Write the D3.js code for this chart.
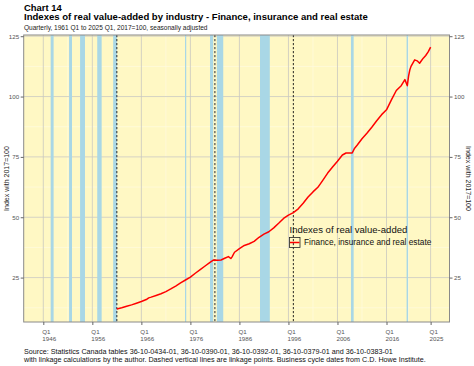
<!DOCTYPE html>
<html><head><meta charset="utf-8">
<script src="https://cdn.jsdelivr.net/npm/d3@7"></script>
<style>body{margin:0;background:#fff}svg{display:block}text{font-family:"Liberation Sans",Arial,sans-serif}</style>
</head><body>
<script>
// Quarterly index values, decimal year -> index
const dates = [1961.0,1962.0,1963.0,1964.0,1965.0,1966.0,1967.0,1967.5,1968.0,1969.0,1970.0,1971.0,1972.0,1973.0,1974.0,1975.0,1976.0,1977.0,1978.0,1979.0,1980.0,1980.75,1981.5,1982.25,1983.0,1983.75,1984.25,1984.5,1985.0,1986.0,1987.0,1988.0,1989.0,1990.0,1991.0,1992.0,1993.0,1994.0,1995.0,1996.0,1997.0,1998.0,1999.0,2000.0,2001.0,2002.0,2003.0,2004.0,2005.0,2006.0,2007.0,2007.75,2008.5,2009.0,2009.5,2010.0,2011.0,2012.0,2013.0,2014.0,2015.0,2016.0,2017.0,2018.0,2019.0,2019.75,2020.25,2020.5,2020.75,2021.0,2021.75,2022.25,2022.75,2023.0,2023.5,2024.0,2024.5,2025.0];
const values = [12.0,12.5,13.1,13.7,14.4,15.1,15.9,16.6,16.9,17.6,18.3,19.2,20.3,21.5,22.8,24.0,25.2,26.8,28.3,29.8,31.3,32.3,32.2,32.3,33.0,33.7,32.9,33.6,35.5,37.0,38.3,39.0,40.0,41.7,43.0,44.0,45.6,47.5,49.5,50.9,51.9,53.5,55.8,58.4,60.5,62.4,65.3,68.3,70.8,73.2,75.8,76.6,76.6,76.6,78.6,79.8,82.5,84.8,87.3,90.0,92.5,94.5,98.6,102.5,104.5,107.0,104.5,108.5,111.0,112.5,115.2,114.8,113.8,114.5,115.9,117.0,118.5,120.5];
// Recessions (C.D. Howe), decimal year start/end
const recStart = [1947.5,1951.25,1953.5,1957.0,1960.25,1974.9,1980.0,1981.4,1990.2,2008.75,2020.1];
const recEnd   = [1948.1,1951.85,1954.5,1957.9,1961.0,1975.15,1980.65,1982.7,1992.2,2009.3,2020.4];
const linkage = [1961.0,1981.0,1997.0];
const xTicks = [1946,1956,1966,1976,1986,1996,2006,2016,2025];
const yTicks = [25,50,75,100,125];
const seriesName = "Finance, insurance and real estate";
const legendTitle = "Indexes of real value-added";

const W=474,H=366;
const P={l:23.7,r:449.5,t:35,b:322};
const svg=d3.select("body").append("svg").attr("width",W).attr("height",H);
const x=d3.scaleLinear().domain([1942.0,2028.85]).range([P.l,P.r]);
const y=d3.scaleLinear().domain([6.6,125.5]).range([P.b,P.t]);

function fit(sel,w){const n=sel.node();const fs=+sel.attr("font-size");const l=n.getComputedTextLength();if(l>0)sel.attr("font-size",(fs*w/l).toFixed(2));return sel;}

svg.append("rect").attr("x",P.l).attr("y",P.t).attr("width",P.r-P.l).attr("height",P.b-P.t).attr("fill","#fff8c4");
const g=svg.append("g");
// minor grid
const yMinor=[12.5,37.5,62.5,87.5,112.5];
g.selectAll(".ymin").data(yMinor).join("line").attr("x1",P.l).attr("x2",P.r).attr("y1",d=>y(d)).attr("y2",d=>y(d)).attr("stroke","#fffbe6").attr("stroke-width",0.6);
const xMinor=xTicks.slice(0,-1).map((d,i)=>(d+xTicks[i+1])/2);
g.selectAll(".xmin").data(xMinor).join("line").attr("y1",P.t).attr("y2",P.b).attr("x1",d=>x(d)).attr("x2",d=>x(d)).attr("stroke","#fffbe6").attr("stroke-width",0.6);
// major grid
g.selectAll(".ymaj").data(yTicks).join("line").attr("x1",P.l).attr("x2",P.r).attr("y1",d=>y(d)).attr("y2",d=>y(d)).attr("stroke","#d6d3c4").attr("stroke-width",1);
g.selectAll(".xmaj").data(xTicks).join("line").attr("y1",P.t).attr("y2",P.b).attr("x1",d=>x(d)).attr("x2",d=>x(d)).attr("stroke","#c9c8c0").attr("stroke-width",0.8);
// recessions
g.selectAll(".rec").data(recStart).join("rect").attr("x",(d)=>x(d)).attr("width",(d,i)=>Math.max(0.8,x(recEnd[i])-x(d))).attr("y",P.t).attr("height",P.b-P.t).attr("fill","#a9d7e6");
// linkage lines
g.selectAll(".lnk").data(linkage).join("line").attr("x1",d=>x(d)).attr("x2",d=>x(d)).attr("y1",P.t).attr("y2",P.b).attr("stroke","#111").attr("stroke-width",0.9).attr("stroke-dasharray","2.2,1.8");
// series
const data=dates.map((d,i)=>[d,values[i]]);
g.append("path").datum(data).attr("d",d3.line().x(d=>x(d[0])).y(d=>y(d[1]))).attr("fill","none").attr("stroke","#ff0000").attr("stroke-width",1.5).attr("stroke-linejoin","round");
// border
svg.append("rect").attr("x",P.l).attr("y",P.t).attr("width",P.r-P.l).attr("height",P.b-P.t).attr("fill","none").attr("stroke","#8a8a8a").attr("stroke-width",1);

// axes
const tickCol="#555";
const yAxisL=d3.axisLeft(y).tickValues(yTicks).tickSize(3).tickPadding(1.5);
const yAxisR=d3.axisRight(y).tickValues(yTicks).tickSize(3).tickPadding(1.5);
const gl=svg.append("g").attr("transform",`translate(${P.l},0)`).call(yAxisL);
const gr=svg.append("g").attr("transform",`translate(${P.r},0)`).call(yAxisR);
const xAxis=d3.axisBottom(x).tickValues(xTicks).tickSize(3).tickFormat(()=> "");
const gx=svg.append("g").attr("transform",`translate(0,${P.b})`).call(xAxis);
[gl,gr,gx].forEach(a=>{a.select(".domain").remove();a.selectAll(".tick line").attr("stroke","#666");a.selectAll("text").attr("fill",tickCol).attr("font-size",6.2).attr("font-family","Liberation Sans, Arial, sans-serif");});
gx.selectAll(".tick").append("text").attr("x",-1.5).attr("y",7.5).attr("text-anchor","start").attr("fill",tickCol).attr("font-size",6.2).attr("font-family","Liberation Sans, Arial, sans-serif").each(function(d){
  const t=d3.select(this);
  t.append("tspan").attr("x",-1.5).attr("dy","0.71em").text("Q1");
  t.append("tspan").attr("x",-1.5).attr("dy","1.15em").text(d);
});
// axis titles
const cy=(P.t+P.b)/2;
svg.append("text").attr("transform",`translate(8.5,${cy}) rotate(-90)`).attr("text-anchor","middle").attr("font-size",7).attr("fill","#222").text("Index with 2017=100");
svg.append("text").attr("transform",`translate(466,${cy}) rotate(90)`).attr("text-anchor","middle").attr("font-size",7).attr("fill","#222").text("Index with 2017=100");

// titles
fit(svg.append("text").attr("x",24).attr("y",10.5).attr("font-size",10).attr("font-weight","bold").text("Chart 14"),37.7);
fit(svg.append("text").attr("x",24).attr("y",20.3).attr("font-size",10).attr("font-weight","bold").text("Indexes of real value-added by industry - Finance, insurance and real estate"),344);
fit(svg.append("text").attr("x",24).attr("y",30.3).attr("font-size",6.5).attr("fill","#222").text("Quarterly, 1961 Q1 to 2025 Q1, 2017=100, seasonally adjusted"),184);

// legend
fit(svg.append("text").attr("x",289.5).attr("y",233).attr("font-size",9).attr("fill","#111").text(legendTitle),118);
svg.append("rect").attr("x",289.5).attr("y",237.5).attr("width",10.5).attr("height",10).attr("fill","none").attr("stroke","#222").attr("stroke-width",0.8);
svg.append("line").attr("x1",290).attr("x2",299.5).attr("y1",242.5).attr("y2",242.5).attr("stroke","#ff0000").attr("stroke-width",1.5);
fit(svg.append("text").attr("x",304).attr("y",245.3).attr("font-size",8).attr("fill","#111").text(seriesName),127.5);

// caption
fit(svg.append("text").attr("x",24).attr("y",354.3).attr("font-size",7.4).attr("fill","#111").text("Source: Statistics Canada tables 36-10-0434-01, 36-10-0390-01, 36-10-0392-01, 36-10-0379-01 and 36-10-0383-01"),368.7);
fit(svg.append("text").attr("x",24).attr("y",362).attr("font-size",7.4).attr("fill","#111").text("with linkage calculations by the author. Dashed vertical lines are linkage points. Business cycle dates from C.D. Howe Institute."),402);
</script>
</body></html>
